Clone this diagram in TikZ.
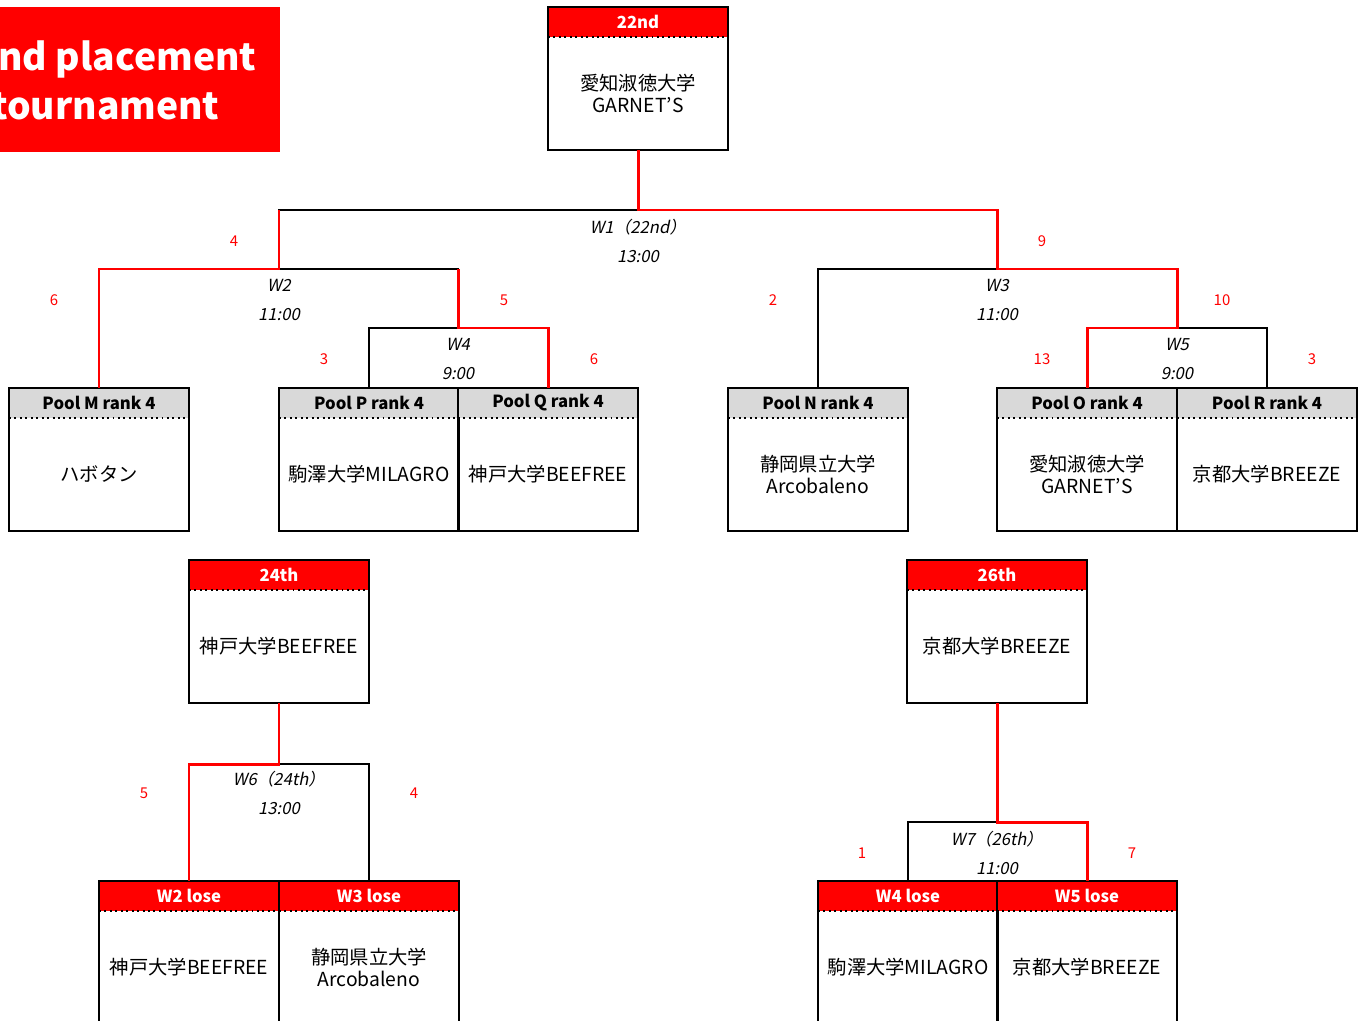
\documentclass[tikz,border=0pt]{standalone}
\usepackage{fontspec}
\setmainfont{Noto Sans CJK JP}
\newfontfamily\slfont[FakeSlant=0.2]{Noto Sans CJK JP}
\definecolor{hdrgray}{HTML}{D9D9D9}

\begin{document}
\begin{tikzpicture}[x=0.02cm, y=-0.02cm,
  hdr/.style={minimum width=3.6cm, minimum height=0.6cm, inner sep=0pt, outer sep=0pt, anchor=north, font=\bfseries\fontsize{9.5}{11}\selectfont},
  poolhdr/.style={hdr, fill=hdrgray},
  placehdr/.style={hdr, fill=red, text=white},
  body/.style={minimum width=3.6cm, minimum height=2.26cm, inner sep=0pt, outer sep=0pt, anchor=north, align=center, font=\fontsize{11}{13}\selectfont},
  frame/.style={line width=1.1pt},
  sep/.style={dotted, line width=1.1pt},
  lose/.style={line width=0.6pt},
  win/.style={red, line width=1.7pt},
  match/.style={font=\slfont\fontsize{9.5}{16.5}\selectfont, align=center},
  score/.style={red, font=\fontsize{8.5}{10}\selectfont},
  title/.style={text=white, inner sep=0pt, font=\bfseries\fontsize{21.2}{25}\selectfont}]
  \useasboundingbox (0,0) rectangle (1364,1020);

  % Title
  \fill[red] (0,7) rectangle (280,152);
  \begin{scope}
    \clip (0,7) rectangle (280,152);
    \node[title, anchor=base west] (ttl1) at (-2,71) {nd placement};
    \node[title, anchor=base west] (ttl2) at (-9,120) {tournament};
  \end{scope}

  % Pool boxes
  \foreach \n/\x/\t in {M/99/ハボタン, P/369/駒澤大学MILAGRO, Q/548/神戸大学BEEFREE,
                        N/818/{静岡県立大学\\Arcobaleno}, O/1087/{愛知淑徳大学\\GARNET'S}, R/1267/京都大学BREEZE} {
    \node[poolhdr] (h\n) at (\x,388) {Pool \n\ rank 4};
    \node[body] (b\n) at (h\n.south) {\t};
    \draw[frame] (h\n.north west) rectangle (b\n.south east);
    \draw[sep] (h\n.south west) -- (h\n.south east);
  }

  % Placement boxes
  \foreach \n/\x/\y/\l/\t in {22/638/7/22nd/{愛知淑徳大学\\GARNET'S}, 24/279/560/24th/神戸大学BEEFREE,
                              26/997/560/26th/京都大学BREEZE,
                              W2/189/881/W2 lose/神戸大学BEEFREE, W3/369/881/W3 lose/{静岡県立大学\\Arcobaleno},
                              W4/908/881/W4 lose/駒澤大学MILAGRO, W5/1087/881/W5 lose/京都大学BREEZE} {
    \node[placehdr] (h\n) at (\x,\y) {\l};
    \node[body] (b\n) at (h\n.south) {\t};
    \draw[frame] (h\n.north west) rectangle (b\n.south east);
    \draw[sep] (h\n.south west) -- (h\n.south east);
  }

  % Match junctions
  \coordinate (j1) at (638,210);
  \coordinate (j2) at (279,269);
  \coordinate (j3) at (997,269);
  \coordinate (j4) at (458,328);
  \coordinate (j5) at (1177,328);
  \coordinate (j6) at (279,764);
  \coordinate (j7) at (997,822);

  % Brackets
  \draw[lose] (b22.south) -- (j1) -| (j2) -| (hM.north);
  \draw[lose] (j2) -| (j4) -| (hP.north);
  \draw[lose] (j4) -| (hQ.north);
  \draw[lose] (j1) -| (j3) -| (hN.north);
  \draw[lose] (j3) -| (j5) -| (hO.north);
  \draw[lose] (j5) -| (hR.north);
  \draw[lose] (b24.south) -- (j6) -| (hW2.north);
  \draw[lose] (j6) -| (hW3.north);
  \draw[lose] (b26.south) -- (j7) -| (hW4.north);
  \draw[lose] (j7) -| (hW5.north);

  % Winners
  \draw[win] (b22.south) -- (j1) -| (j3) -| (j5) -| (hO.north);
  \draw[win] (j2 |- j1) -- (j2) -| (hM.north);
  \draw[win] (j4 |- j2) -- (j4) -| (hQ.north);
  \draw[win] (b24.south) -- (j6) -| (hW2.north);
  \draw[win] (b26.south) -- (j7) -| (hW5.north);

  % Match labels
  \node[match] (m1) at (638,241) {W1（22nd）\\13:00};
  \node[match] (m2) at (279,300) {W2\\11:00};
  \node[match] (m3) at (997,300) {W3\\11:00};
  \node[match] (m4) at (458,359) {W4\\9:00};
  \node[match] (m5) at (1177,359) {W5\\9:00};
  \node[match] (m6) at (279,793) {W6（24th）\\13:00};
  \node[match] (m7) at (997,853) {W7（26th）\\11:00};

  % Scores
  \foreach \x/\y/\s [count=\i] in {234/241/4, 1042/241/9, 54/300/6, 504/300/5, 324/359/3, 594/359/6,
                                    773/300/2, 1222/300/10, 1042/359/13, 1312/359/3,
                                    144/793/5, 414/793/4, 862/853/1, 1132/853/7}
    \node[score] (sc\i) at (\x,\y) {\s};

\end{tikzpicture}
\end{document}
